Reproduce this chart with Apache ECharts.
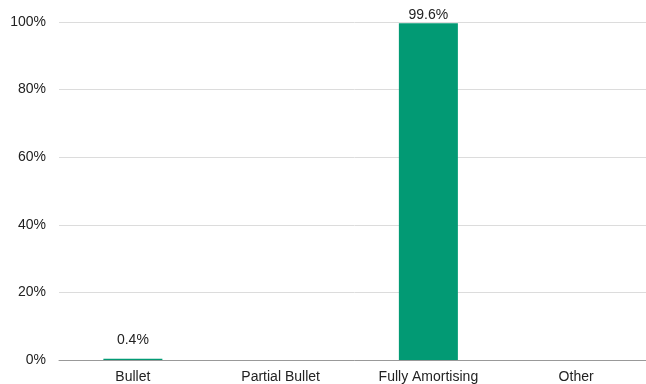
<!DOCTYPE html>
<html><head><meta charset="utf-8">
<script src="https://cdn.jsdelivr.net/npm/echarts@6/dist/echarts.min.js"></script>
<style>html,body{margin:0;padding:0;background:#fff;overflow:hidden}#c{width:650px;height:384px}</style>
</head><body><div id="c"></div>
<script>
const categories = ['Bullet', 'Partial Bullet', 'Fully Amortising', 'Other'];
const values = [0.4, 0, 99.6, 0];
const labelDistances = [12, 0, 1, 0];
const yTicks = [0, 20, 40, 60, 80, 100];

const chart = echarts.init(document.getElementById('c'), null, {renderer: 'canvas'});
const font = '"Liberation Sans", Arial, sans-serif';
chart.setOption({
  animation: false,
  grid: {left: 59, right: 0, top: 22, bottom: 24, containLabel: false},
  xAxis: {
    type: 'category', data: categories,
    axisLine: {lineStyle: {color: '#999', width: 1}},
    axisTick: {show: false},
    axisLabel: {color: '#222', fontFamily: font, fontSize: 14, margin: 10}
  },
  yAxis: {
    type: 'value', min: yTicks[0], max: yTicks[yTicks.length - 1], interval: 20,
    axisLine: {show: false}, axisTick: {show: false},
    splitLine: {lineStyle: {color: '#dcdcdc', width: 1}},
    axisLabel: {color: '#222', fontFamily: font, fontSize: 14, margin: 13, formatter: v => v + '%'}
  },
  series: [{
    type: 'bar', barWidth: 59,
    itemStyle: {color: '#029a74'},
    data: values.map((v, i) => ({
      value: v,
      label: {show: v > 0, position: 'top', distance: labelDistances[i], formatter: p => p.value.toFixed(1) + '%',
        color: '#222', fontFamily: font, fontSize: 14}
    }))
  }]
});
</script></body></html>
